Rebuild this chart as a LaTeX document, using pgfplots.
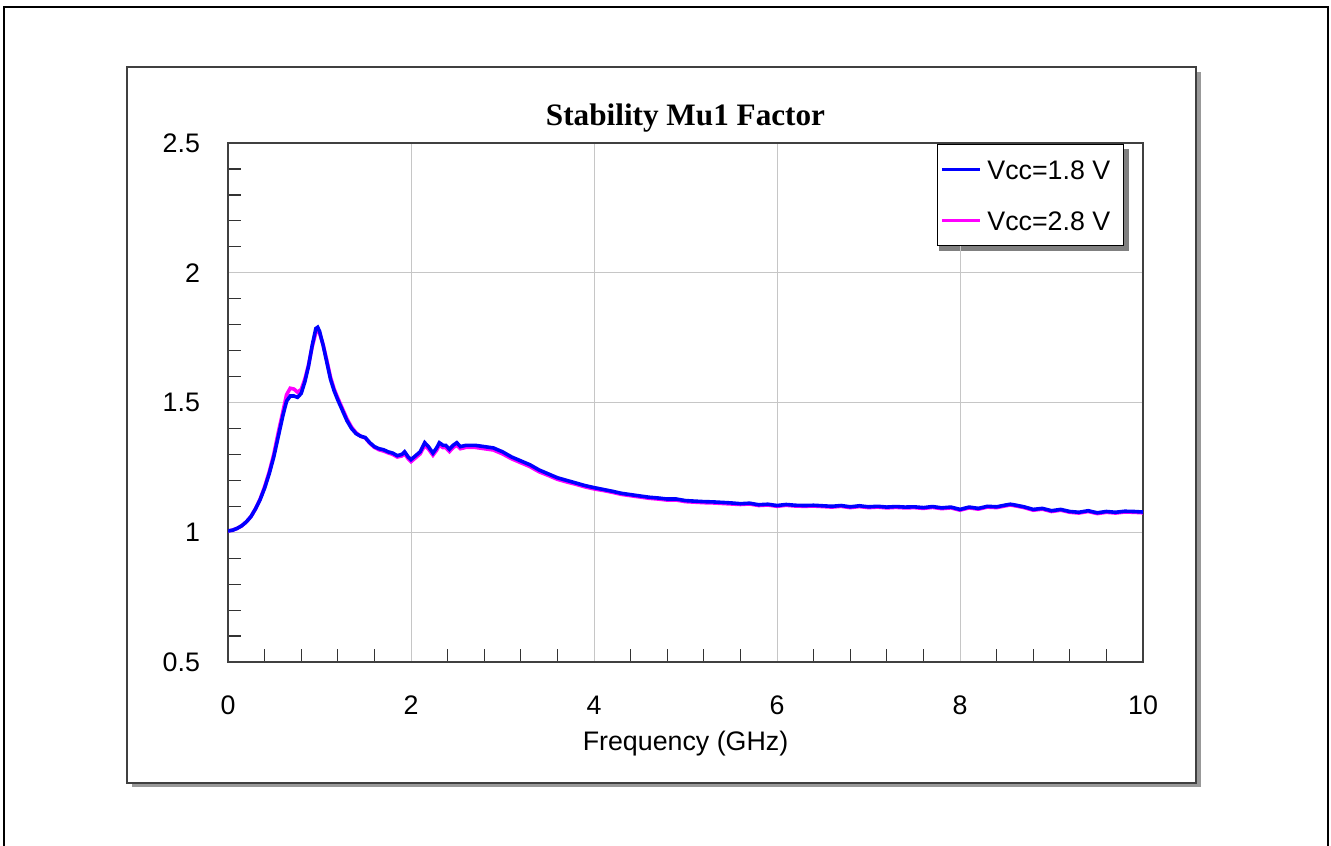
\documentclass[border=0pt]{standalone}
\usepackage{fontspec}
\setmainfont{Liberation Sans}
\newfontfamily\titlefont{Liberation Serif}
\usepackage{pgfplots}
\pgfplotsset{compat=1.18}
\definecolor{mag}{RGB}{255,0,255}
\definecolor{blu}{RGB}{0,0,255}

\begin{document}
\begin{tikzpicture}
% page frame, in pixel units of the reference
\begin{scope}[x=0.5pt,y=-0.5pt]
  \useasboundingbox (0,0) rectangle (1331,845);
  \draw[black, line width=1pt] (4,860) -- (4,7) -- (1327.5,7) -- (1327.5,860);
  \fill[black!40] (132,72) rectangle (1201,787);
  \draw[black!75, line width=0.75pt, fill=white] (127,67) rectangle (1196,783);
  % legend shadow
  \fill[black!50] (939,149) rectangle (1129,251);
\end{scope}

\begin{axis}[
    at={(114pt,-331pt)}, anchor=south west,
    scale only axis,
    width=457.5pt, height=259.5pt,
    xmin=0, xmax=10,
    ymin=0.5, ymax=2.5,
    xtick={0,2,...,10},
    ytick={0.5,1,...,2.5},
    yticklabels={0.5,1,1.5,2,2.5},
    xtick pos=bottom, ytick pos=left,
    minor tick num=4,
    tick align=inside,
    major tick length=0pt,
    minor tick length=6.5pt,
    minor tick style={black!80, line width=0.6pt},
    grid=major,
    major grid style={gray!45, line width=0.5pt},
    axis line style={black!75, line width=1pt},
    /pgf/number format/assume math mode=true,
    tick label style={font=\fontsize{13.4pt}{16pt}\selectfont},
    yticklabel style={anchor=east, xshift=-10.5pt},
    xticklabel style={anchor=north, yshift=-13.5pt},
    xlabel={Frequency (GHz)},
    xlabel style={font=\fontsize{13.4pt}{16pt}\selectfont, at={(axis description cs:0.5,0)}, anchor=north, yshift=-31pt},
    title={Stability Mu1 Factor},
    title style={font=\fontsize{15.6pt}{18pt}\titlefont\bfseries, at={(axis description cs:0.5,1)}, anchor=base, yshift=3pt},
    legend cell align=left,
    legend image code/.code={\draw[#1] (0pt,0pt) -- (19pt,0pt);},
    legend style={
        at={(axis description cs:0.979,0.998)}, anchor=north east,
        draw=black, line width=0.5pt, fill=white,
        font=\fontsize{13.4pt}{16pt}\selectfont,
        inner xsep=1.5pt, inner ysep=7.5pt,
        row sep=15.5pt, column sep=0pt,
        nodes={inner sep=0pt, text height=10pt, text depth=0pt},
        /tikz/every odd column/.style={column sep=3pt},
    },
]

\addlegendimage{blu, line width=1.5pt}
\addlegendentry{Vcc=1.8 V\kern5pt}
\addlegendimage{mag, line width=1.5pt}
\addlegendentry{Vcc=2.8 V\kern5pt}

% Vcc = 2.8 V
\addplot[mag, line width=1.8pt, forget plot] coordinates {
(0,1.005)(0.05,1.008)(0.1,1.015)(0.15,1.025)(0.2,1.04)(0.25,1.06)(0.3,1.09)
(0.35,1.127)(0.4,1.175)(0.45,1.232)(0.5,1.30)(0.55,1.385)(0.6,1.465)
(0.64,1.53)(0.68,1.555)(0.72,1.552)(0.76,1.54)(0.8,1.55)(0.84,1.59)
(0.88,1.645)(0.92,1.715)(0.96,1.77)(0.98,1.777)(1.0,1.768)(1.04,1.722)
(1.08,1.662)(1.12,1.598)(1.16,1.552)(1.2,1.517)(1.25,1.477)(1.3,1.437)
(1.35,1.405)(1.4,1.383)(1.45,1.37)(1.5,1.363)(1.55,1.343)(1.6,1.327)
(1.65,1.318)(1.7,1.313)(1.75,1.306)(1.8,1.30)(1.85,1.29)(1.9,1.294)
(1.93,1.303)(1.97,1.283)(2.0,1.272)(2.05,1.287)(2.1,1.302)(2.15,1.335)
(2.19,1.321)(2.24,1.297)(2.28,1.316)(2.31,1.336)(2.35,1.326)(2.38,1.326)
(2.42,1.311)(2.46,1.326)(2.5,1.336)(2.54,1.322)(2.6,1.327)(2.7,1.327)
(2.8,1.322)(2.9,1.317)(3.0,1.302)(3.1,1.283)(3.2,1.268)(3.3,1.253)
(3.4,1.233)(3.5,1.219)(3.6,1.204)(3.7,1.194)(3.8,1.185)(3.9,1.175)
(4.0,1.167)(4.1,1.161)(4.2,1.154)(4.3,1.146)(4.4,1.141)(4.5,1.136)
(4.6,1.131)(4.7,1.128)(4.8,1.124)(4.9,1.124)(5.0,1.118)(5.1,1.116)
(5.2,1.114)(5.3,1.113)(5.4,1.111)(5.5,1.109)(5.6,1.107)(5.7,1.109)
(5.8,1.103)(5.9,1.105)(6.0,1.100)(6.1,1.104)(6.2,1.101)(6.3,1.100)
(6.4,1.101)(6.5,1.099)(6.6,1.097)(6.7,1.100)(6.8,1.095)(6.9,1.099)
(7.0,1.095)(7.1,1.097)(7.2,1.094)(7.3,1.096)(7.4,1.094)(7.5,1.095)
(7.6,1.092)(7.7,1.096)(7.8,1.091)(7.9,1.094)(8.0,1.085)(8.1,1.094)
(8.2,1.089)(8.3,1.097)(8.4,1.095)(8.5,1.102)(8.55,1.105)(8.6,1.102)
(8.7,1.095)(8.8,1.085)(8.9,1.089)(9.0,1.080)(9.1,1.085)(9.2,1.077)
(9.3,1.074)(9.4,1.080)(9.5,1.072)(9.6,1.077)(9.7,1.074)(9.8,1.078)
(9.9,1.077)(10.0,1.075)
};

% Vcc = 1.8 V
\addplot[blu, line width=1.8pt, forget plot] coordinates {
(0,1.005)(0.05,1.008)(0.1,1.015)(0.15,1.025)(0.2,1.04)(0.25,1.06)(0.3,1.09)
(0.35,1.125)(0.4,1.17)(0.45,1.225)(0.5,1.29)(0.55,1.37)(0.6,1.45)
(0.64,1.505)(0.68,1.525)(0.72,1.525)(0.76,1.52)(0.8,1.535)(0.84,1.58)
(0.88,1.64)(0.92,1.72)(0.96,1.785)(0.98,1.79)(1.0,1.775)(1.04,1.72)
(1.08,1.655)(1.12,1.59)(1.16,1.545)(1.2,1.51)(1.25,1.47)(1.3,1.43)
(1.35,1.40)(1.4,1.38)(1.45,1.37)(1.5,1.365)(1.55,1.345)(1.6,1.33)
(1.65,1.322)(1.7,1.318)(1.75,1.31)(1.8,1.305)(1.85,1.295)(1.9,1.30)
(1.93,1.31)(1.97,1.29)(2.0,1.28)(2.05,1.295)(2.1,1.31)(2.15,1.345)
(2.19,1.33)(2.24,1.305)(2.28,1.325)(2.31,1.345)(2.35,1.335)(2.38,1.335)
(2.42,1.32)(2.46,1.335)(2.5,1.345)(2.54,1.33)(2.6,1.335)(2.7,1.335)
(2.8,1.33)(2.9,1.325)(3.0,1.31)(3.1,1.29)(3.2,1.275)(3.3,1.26)
(3.4,1.24)(3.5,1.225)(3.6,1.21)(3.7,1.20)(3.8,1.19)(3.9,1.18)
(4.0,1.172)(4.1,1.165)(4.2,1.158)(4.3,1.15)(4.4,1.145)(4.5,1.14)
(4.6,1.135)(4.7,1.132)(4.8,1.128)(4.9,1.128)(5.0,1.122)(5.1,1.12)
(5.2,1.118)(5.3,1.117)(5.4,1.115)(5.5,1.113)(5.6,1.11)(5.7,1.112)
(5.8,1.106)(5.9,1.108)(6.0,1.103)(6.1,1.107)(6.2,1.104)(6.3,1.103)
(6.4,1.104)(6.5,1.102)(6.6,1.10)(6.7,1.103)(6.8,1.098)(6.9,1.102)
(7.0,1.098)(7.1,1.10)(7.2,1.097)(7.3,1.099)(7.4,1.097)(7.5,1.098)
(7.6,1.095)(7.7,1.099)(7.8,1.094)(7.9,1.097)(8.0,1.088)(8.1,1.097)
(8.2,1.092)(8.3,1.10)(8.4,1.098)(8.5,1.105)(8.55,1.108)(8.6,1.105)
(8.7,1.098)(8.8,1.088)(8.9,1.092)(9.0,1.083)(9.1,1.088)(9.2,1.08)
(9.3,1.077)(9.4,1.083)(9.5,1.075)(9.6,1.08)(9.7,1.077)(9.8,1.081)
(9.9,1.08)(10.0,1.078)
};

\end{axis}
\end{tikzpicture}
\end{document}
